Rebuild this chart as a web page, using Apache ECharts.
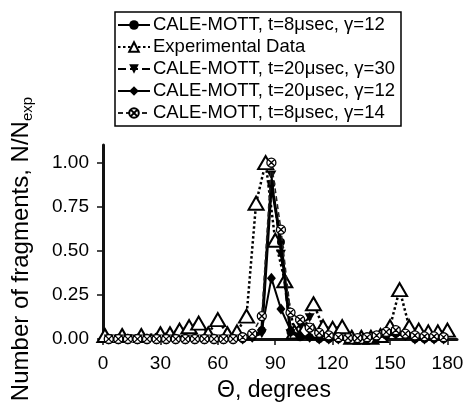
<!DOCTYPE html>
<html>
<head>
<meta charset="utf-8">
<script src="https://cdn.jsdelivr.net/npm/echarts@6/dist/echarts.min.js"></script>
<style>html,body{margin:0;padding:0;background:#fff}#c{width:465px;height:408px}</style>
</head>
<body>
<div id="c"></div>
<script>
// ---- data ----
var seriesNames = [
  'CALE-MOTT, t=8\u03bcsec, \u03b3=12',
  'Experimental Data',
  'CALE-MOTT, t=20\u03bcsec, \u03b3=30',
  'CALE-MOTT, t=20\u03bcsec, \u03b3=12',
  'CALE-MOTT, t=8\u03bcsec, \u03b3=14'
];
var simAngles = [3,8,13,18,23,28,33,38,43,48,53,58,63,68,73,78,83,88,93,98,103,108,113,118,123,128,133,138,143,148,153,158,163,168,173,178];
var calT8G12  = [0,0,0,0,0,0,0,0,0,0,0,0,0,0,0,0.01,0.05,0.88,0.55,0.04,0.01,0.01,0,0,0,0,0,0,0.01,0.02,0.03,0.02,0,0,0,0];
var calT20G30 = [0,0,0,0,0,0,0,0,0,0,0,0,0,0,0,0.01,0.03,0.93,0.48,0.03,0.08,0.12,0.02,0.01,0,0,0,0,0.01,0.03,0.04,0.02,0.01,0,0,0];
var calT20G12 = [0,0,0,0,0,0,0,0,0,0,0,0,0,0,0,0.01,0.05,0.345,0.17,0.05,0.02,0.01,0,0,0,0,0,0,0.01,0.02,0.03,0.02,0,0,0,0];
var calT8G14  = [0,0,0,0,0,0,0,0,0,0,0,0,0,0,0.01,0.03,0.13,1.0,0.62,0.15,0.11,0.065,0.035,0.02,0.01,0.005,0.005,0.01,0.02,0.04,0.05,0.03,0.02,0.015,0.015,0.01];
var expAngles = [1,10,20,30,35,40,45,50,55,60,65,70,75,80,85,90,95,100,105,110,115,120,125,130,135,140,145,150,155,160,165,170,175,180];
var expData   = [0.02,0.02,0.02,0.03,0.03,0.05,0.07,0.09,0.03,0.11,0.03,0.04,0.13,0.77,1.0,0.56,0.33,0.04,0.05,0.2,0.07,0.06,0.07,0.01,0.01,0.01,0.02,0.07,0.28,0.07,0.05,0.04,0.04,0.05];
var xTicks = [0,30,60,90,120,150,180];
var yTicks = [0,0.25,0.5,0.75,1.0];

function pairs(xs, ys){ return xs.map(function(x,i){ return [x, ys[i]]; }); }

var FONT = "'Liberation Sans', Arial, sans-serif";
var crossCircle = 'path://M0,-10A10,10,0,1,1,0,10A10,10,0,1,1,0,-10ZM-7,-7L7,7M7,-7L-7,7';

var chart = echarts.init(document.getElementById('c'), null, {renderer:'canvas'});
chart.setOption({
  animation:false,
  backgroundColor:'#fff',
  textStyle:{fontFamily:FONT, color:'#000'},
  grid:{left:103, right:8, top:145, bottom:69, containLabel:false, outerBoundsMode:'none'},
  legend:{
    orient:'vertical', left:115, top:12,
    padding:[3,6,3,2],
    borderColor:'#000', borderWidth:1.5,
    itemWidth:32, itemHeight:12, itemGap:2,
    textStyle:{fontFamily:FONT, fontSize:18.5, color:'#000', lineHeight:20, padding:[0,0,0,-2]},
    data:seriesNames
  },
  xAxis:{
    type:'value', min:0, max:185,
    name:'\u0398, degrees', nameLocation:'middle', nameGap:40,
    nameTextStyle:{fontFamily:FONT, fontSize:23, color:'#000', padding:[0,12,0,0]},
    axisLine:{show:true, lineStyle:{color:'#111', width:3}},
    axisTick:{show:true, length:6, lineStyle:{color:'#111', width:1.5}, customValues:xTicks},
    axisLabel:{fontFamily:FONT, fontSize:19, color:'#000', margin:15, customValues:xTicks},
    splitLine:{show:false}
  },
  yAxis:{
    type:'value', min:0, max:1.1,
    name:'Number of fragments, N/N{sub|exp}', nameLocation:'middle', nameGap:68, nameRotate:90,
    nameTextStyle:{fontFamily:FONT, fontSize:24, color:'#000', padding:[0,14,0,0],
      rich:{sub:{fontFamily:FONT, fontSize:15, color:'#000', padding:[12,0,0,0]}}},
    axisLine:{show:true, lineStyle:{color:'#111', width:3}},
    axisTick:{show:true, length:6, lineStyle:{color:'#111', width:1.5}, customValues:yTicks},
    axisLabel:{fontFamily:FONT, fontSize:19, color:'#000', margin:14, customValues:yTicks,
      formatter:function(v){ return v.toFixed(2); }},
    splitLine:{show:false}
  },
  series:[
    {name:seriesNames[0], type:'line', data:pairs(simAngles, calT8G12), z:3,
     symbol:'circle', symbolSize:8, showAllSymbol:true,
     lineStyle:{color:'#000', width:3, type:'solid'},
     itemStyle:{color:'#000', borderColor:'#000', borderWidth:0}},
    {name:seriesNames[1], type:'line', data:pairs(expAngles, expData), z:2,
     symbol:'triangle', symbolSize:[15,13], showAllSymbol:true,
     lineStyle:{color:'#000', width:2.5, type:[2.5,2.5]},
     itemStyle:{color:'#fff', borderColor:'#000', borderWidth:2}},
    {name:seriesNames[2], type:'line', data:pairs(simAngles, calT20G30), z:4,
     symbol:'triangle', symbolRotate:180, symbolSize:[10,9], showAllSymbol:true,
     lineStyle:{color:'#000', width:2, type:[8,4]},
     itemStyle:{color:'#000', borderColor:'#000', borderWidth:0}},
    {name:seriesNames[3], type:'line', data:pairs(simAngles, calT20G12), z:5,
     symbol:'diamond', symbolSize:[9,11], showAllSymbol:true,
     lineStyle:{color:'#000', width:2, type:'solid'},
     itemStyle:{color:'#000', borderColor:'#000', borderWidth:0}},
    {name:seriesNames[4], type:'line', data:pairs(simAngles, calT8G14), z:6,
     symbol:crossCircle, symbolSize:9, showAllSymbol:true,
     lineStyle:{color:'#222', width:1.5, type:[5,3]},
     itemStyle:{color:'#fff', borderColor:'#000', borderWidth:1.3}}
  ]
});
</script>
</body>
</html>
